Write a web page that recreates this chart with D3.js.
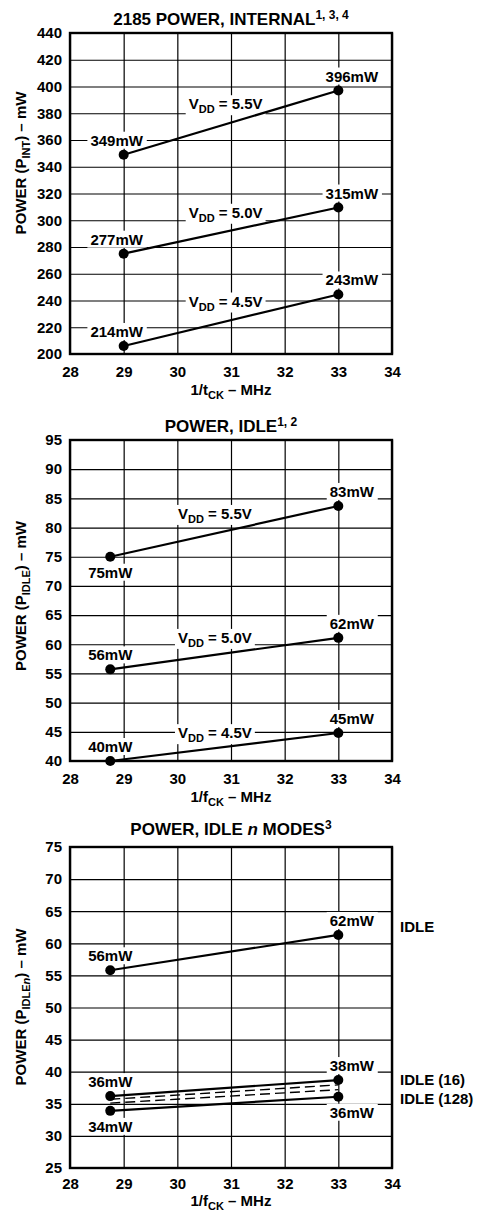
<!DOCTYPE html>
<html>
<head>
<meta charset="utf-8">
<script src="https://cdn.jsdelivr.net/npm/d3@7"></script>
<style>
    body { margin: 0; background: #fff; }
    svg text { font-family: "Liberation Sans", Arial, sans-serif; font-weight: bold; fill: #000; }
</style>
</head>
<body>
<div id="chart-area"></div>
<script>

// shared x axis (1/tCK in MHz)
let xTicks = [28, 29, 30, 31, 32, 33, 34];

// chart 1 - 2185 power, internal
let intTicks = [200, 220, 240, 260, 280, 300, 320, 340, 360, 380, 400, 420, 440];
let intX = [29, 33];
let int55 = [349, 397];
let int50 = [275, 309.5];
let int45 = [206, 244.5];
let int55Labels = ["349mW", "396mW"];
let int50Labels = ["277mW", "315mW"];
let int45Labels = ["214mW", "243mW"];

// chart 2 - power, idle
let idleTicks = [40, 45, 50, 55, 60, 65, 70, 75, 80, 85, 90, 95];
let idleX = [28.75, 33];
let idle55 = [75, 83.7];
let idle50 = [55.7, 61.1];
let idle45 = [40, 44.8];
let idle55Labels = ["75mW", "83mW"];
let idle50Labels = ["56mW", "62mW"];
let idle45Labels = ["40mW", "45mW"];

// chart 3 - power, idle n modes
let modeTicks = [25, 30, 35, 40, 45, 50, 55, 60, 65, 70, 75];
let modeX = [28.75, 33];
let modeIdle = [55.8, 61.3];
let modeIdle16 = [36.2, 38.7];
let modeDash1 = [35.7, 37.95];
let modeDash2 = [35.1, 37.2];
let modeIdle128 = [33.9, 36.1];
let modeIdleLabels = ["56mW", "62mW"];
let modeIdle16Labels = ["36mW", "38mW"];
let modeIdle128Labels = ["34mW", "36mW"];


// writes text made of parts: [text, "sub" | "sup" | "it" | "subit"]
function richText(sel, parts, size) {
    let shift = 0;
    parts.forEach(function(p) {
        let kind = p[1] || "";
        let want = kind.indexOf("sub") === 0 ? 4 : (kind === "sup" ? -6 : 0);
        let t = sel.append("tspan").text(p[0]).attr("dy", want - shift);
        shift = want;
        if (kind === "sub" || kind === "sup" || kind === "subit") t.attr("font-size", Math.round(size * 0.72));
        if (kind === "it" || kind === "subit") t.attr("font-style", "italic");
    });
    return sel;
}


class PowerVis {

    constructor(_svg, _config, _series) {
        this.svg = _svg;
        this.config = _config;
        this.series = _series;

        this.initVis();
    }

    initVis() {
        let vis = this;
        let cfg = vis.config;

        vis.margin = { top: cfg.top, left: 70 };
        vis.width = 322;
        vis.height = cfg.bottom - cfg.top;

        vis.g = vis.svg.append("g")
            .attr("transform", "translate(" + vis.margin.left + "," + vis.margin.top + ")");

        vis.x = d3.scaleLinear()
            .domain([xTicks[0], xTicks[xTicks.length - 1]])
            .range([0, vis.width]);

        vis.y = d3.scaleLinear()
            .domain([cfg.yTicks[0], cfg.yTicks[cfg.yTicks.length - 1]])
            .range([vis.height, 0]);

        // axes double as the grid
        vis.xAxis = d3.axisBottom(vis.x)
            .tickValues(xTicks)
            .tickSize(-vis.height)
            .tickPadding(cfg.xTickPad)
            .tickFormat(d3.format("d"));

        vis.yAxis = d3.axisLeft(vis.y)
            .tickValues(cfg.yTicks)
            .tickSize(-vis.width)
            .tickPadding(8)
            .tickFormat(d3.format("d"));

        vis.g.append("g")
            .attr("class", "x-axis axis")
            .attr("transform", "translate(0," + vis.height + ")")
            .call(vis.xAxis);

        vis.g.append("g")
            .attr("class", "y-axis axis")
            .call(vis.yAxis);

        vis.g.selectAll(".axis .domain").remove();
        vis.g.selectAll(".axis line").attr("stroke", "#000").attr("stroke-width", 1.2);
        vis.g.selectAll(".axis text").attr("font-size", 15);

        vis.bgLayer = vis.g.append("g");
        vis.lineLayer = vis.g.append("g");
        vis.textLayer = vis.g.append("g");

        // frame
        vis.g.append("rect")
            .attr("width", vis.width)
            .attr("height", vis.height)
            .attr("fill", "none")
            .attr("stroke", "#000")
            .attr("stroke-width", 2.4);

        // title
        richText(vis.g.append("text")
            .attr("x", vis.width / 2)
            .attr("y", -cfg.titleGap)
            .attr("text-anchor", "middle")
            .attr("font-size", 17), cfg.title, 17);

        // axis titles
        richText(vis.g.append("text")
            .attr("x", vis.width / 2)
            .attr("y", vis.height + cfg.xTitleGap)
            .attr("text-anchor", "middle")
            .attr("font-size", 15), cfg.xTitle, 15);

        richText(vis.g.append("text")
            .attr("transform", "translate(" + (26 - vis.margin.left) + "," + cfg.yTitleMid + ") rotate(-90)")
            .attr("text-anchor", "middle")
            .attr("font-size", 15), cfg.yTitle, 15);

        vis.updateVis();
    }

    label(x, y, anchor, parts, withBg) {
        let vis = this;
        let t = richText(vis.textLayer.append("text")
            .attr("x", x)
            .attr("y", y)
            .attr("text-anchor", anchor)
            .attr("font-size", 15), parts, 15);
        if (withBg) {
            let b = t.node().getBBox();
            vis.bgLayer.append("rect")
                .attr("x", b.x - 3)
                .attr("y", b.y)
                .attr("width", b.width + 6)
                .attr("height", b.height)
                .attr("fill", "#fff");
        }
    }

    updateVis() {
        let vis = this;
        let cfg = vis.config;

        let line = d3.line()
            .x(function(d) { return vis.x(d[0]); })
            .y(function(d) { return vis.y(d[1]); });

        vis.series.forEach(function(s) {
            let pts = cfg.xs.map(function(xv, i) { return [xv, s.values[i]]; });

            vis.lineLayer.append("path")
                .datum(pts)
                .attr("d", line)
                .attr("fill", "none")
                .attr("stroke", "#000")
                .attr("stroke-width", s.dashed ? 1.4 : 2.2)
                .attr("stroke-dasharray", s.dashed ? "10,5" : null);

            if (s.dashed) return;

            vis.lineLayer.selectAll(null)
                .data(pts)
                .enter().append("circle")
                .attr("cx", function(d) { return vis.x(d[0]); })
                .attr("cy", function(d) { return vis.y(d[1]); })
                .attr("r", 5)
                .attr("fill", "#000");

            // point values
            s.labels.forEach(function(txt, i) {
                let below = s.below && s.below[i];
                let px = vis.x(pts[i][0]) + (i === 0 ? cfg.leftDx : 13.5);
                let py = vis.y(pts[i][1]) + (below ? 21 : -9);
                vis.label(px, py, "middle", [[txt]], true);
            });

            // supply voltage tag riding along the line
            if (s.vdd) {
                let t = (cfg.vddAt - cfg.xs[0]) / (cfg.xs[1] - cfg.xs[0]);
                let vy = vis.y(s.values[0] + t * (s.values[1] - s.values[0]));
                vis.label(vis.x(cfg.vddAt), vy + s.vddDy, "middle",
                    [["V"], ["DD", "sub"], [" = " + s.vdd]], true);
            }

            // mode name outside the frame
            if (s.name) {
                vis.textLayer.append("text")
                    .attr("x", vis.width + 8)
                    .attr("y", vis.y(pts[1][1]) + s.nameDy)
                    .attr("font-size", 15)
                    .text(s.name);
            }
        });
    }
}


let svg = d3.select("#chart-area").append("svg")
    .attr("width", 477)
    .attr("height", 1211);

new PowerVis(svg, {
    top: 33, bottom: 354, yTicks: intTicks, xs: intX, titleGap: 8, xTitleGap: 41, xTickPad: 12,
    leftDx: -7, vddAt: 30.9, yTitleMid: 130,
    title: [["2185 POWER, INTERNAL"], ["1, 3, 4", "sup"]],
    xTitle: [["1/t"], ["CK", "sub"], [" – MHz"]],
    yTitle: [["POWER (P"], ["INT", "sub"], [") – mW"]]
}, [
    { values: int55, labels: int55Labels, vdd: "5.5V", vddDy: -15 },
    { values: int50, labels: int50Labels, vdd: "5.0V", vddDy: -14 },
    { values: int45, labels: int45Labels, vdd: "4.5V", vddDy: -15 }
]);

new PowerVis(svg, {
    top: 440, bottom: 761, yTicks: idleTicks, xs: idleX, titleGap: 8, xTitleGap: 41, xTickPad: 12,
    leftDx: 0, vddAt: 30.7, yTitleMid: 156,
    title: [["POWER, IDLE"], ["1, 2", "sup"]],
    xTitle: [["1/f"], ["CK", "sub"], [" – MHz"]],
    yTitle: [["POWER (P"], ["IDLE", "sub"], [") – mW"]]
}, [
    { values: idle55, labels: idle55Labels, below: [true, false], vdd: "5.5V", vddDy: -14.5 },
    { values: idle50, labels: idle50Labels, vdd: "5.0V", vddDy: -12 },
    { values: idle45, labels: idle45Labels, vdd: "4.5V", vddDy: -10 }
]);

new PowerVis(svg, {
    top: 847, bottom: 1168, yTicks: modeTicks, xs: modeX, titleGap: 12, xTitleGap: 38, xTickPad: 10,
    leftDx: 0, yTitleMid: 160,
    title: [["POWER, IDLE "], ["n", "it"], [" MODES"], ["3", "sup"]],
    xTitle: [["1/f"], ["CK", "sub"], [" – MHz"]],
    yTitle: [["POWER (P"], ["IDLE", "sub"], ["n", "subit"], [") – mW"]]
}, [
    { values: modeIdle, labels: modeIdleLabels, name: "IDLE", nameDy: -3 },
    { values: modeIdle16, labels: modeIdle16Labels, name: "IDLE (16)", nameDy: 5 },
    { values: modeDash1, dashed: true },
    { values: modeDash2, dashed: true },
    { values: modeIdle128, labels: modeIdle128Labels, below: [true, true], name: "IDLE (128)", nameDy: 7 }
]);

</script>
</body>
</html>
